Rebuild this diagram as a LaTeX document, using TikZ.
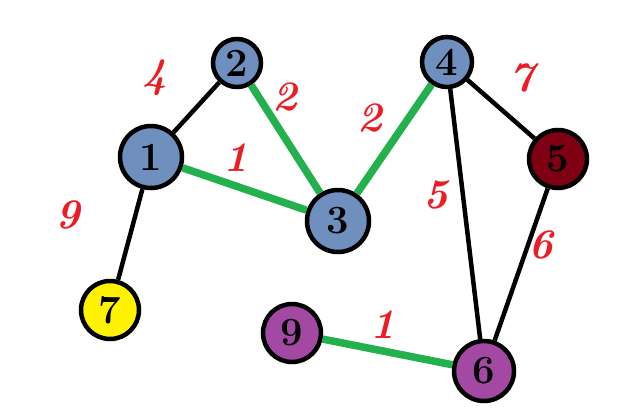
\documentclass[tikz,border=0pt]{standalone}
\usepackage{fontspec}
\definecolor{nblue}{HTML}{6F8FBF}
\definecolor{nred}{HTML}{7F0012}
\definecolor{nyellow}{HTML}{FFF200}
\definecolor{npurple}{HTML}{A349A4}
\definecolor{egreen}{HTML}{22B14C}
\definecolor{lred}{HTML}{ED1C24}
\begin{document}
\begin{tikzpicture}[x=1pt,y=-1pt,
  vtx/.style={circle,draw=black,line width=4.5pt,minimum size=52pt,inner sep=0pt,font=\fontsize{40}{40}\selectfont\bfseries},
  bedge/.style={draw=black,line width=4.5pt},
  gedge/.style={draw=egreen,line width=7.5pt},
  wlab/.style={text=lred,font=\fontsize{42}{42}\selectfont\bfseries\itshape}]
\useasboundingbox (0,0) rectangle (635,410);
\node[vtx,fill=nblue,minimum size=48pt] (n2) at (237,63) {2};
\node[vtx,fill=nblue,minimum size=62pt] (n1) at (151,157) {1};
\node[vtx,fill=nblue,minimum size=62pt] (n3) at (338,221) {3};
\node[vtx,fill=nblue,minimum size=50pt] (n4) at (447,62) {4};
\node[vtx,fill=nred,minimum size=58pt] (n5) at (558,159) {5};
\node[vtx,fill=nyellow,minimum size=58pt] (n7) at (110,310) {7};
\node[vtx,fill=npurple,minimum size=58pt] (n9) at (292,333) {9};
\node[vtx,fill=npurple,minimum size=60pt] (n6) at (484,371) {6};
\draw[bedge] (n1) -- (n2);
\draw[bedge] (n4) -- (n5);
\draw[bedge] (n4) -- (n6);
\draw[bedge] (n5) -- (n6);
\draw[bedge] (n1) -- (n7);
\draw[gedge] (n2) -- (n3);
\draw[gedge] (n1) -- (n3);
\draw[gedge] (n3) -- (n4);
\draw[gedge] (n9) -- (n6);
\node[wlab] (l12) at (155,78) {4};
\node[wlab] (l23) at (285,97) {2};
\node[wlab] (l13) at (236,158) {1};
\node[wlab] (l34) at (370,118) {2};
\node[wlab] (l45) at (522,78) {7};
\node[wlab] (l46) at (436,195) {5};
\node[wlab] (l56) at (541,245) {6};
\node[wlab] (l17) at (68,215) {9};
\node[wlab] (l96) at (383,325) {1};
\end{tikzpicture}
\end{document}
